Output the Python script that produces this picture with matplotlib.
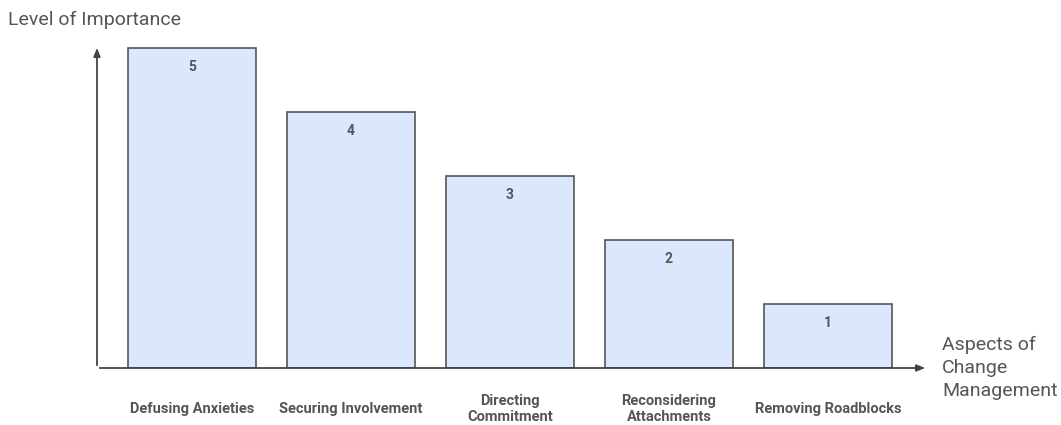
import matplotlib.pyplot as plt

plt.rcParams['font.family'] = ['Roboto', 'DejaVu Sans']

categories = ['Defusing Anxieties', 'Securing Involvement', 'Directing\nCommitment',
              'Reconsidering\nAttachments', 'Removing Roadblocks']
importance = [5, 4, 3, 2, 1]

fig = plt.figure(figsize=(10.61, 4.25), dpi=100)
ax = fig.add_axes([97 / 1061, 57 / 425, 831 / 1061, 323 / 425])

x = list(range(len(categories)))
ax.bar(x, importance, width=0.8, color='#dbe7fd', edgecolor='#555555', linewidth=1.2, zorder=2)

for xi, v in zip(x, importance):
    ax.text(xi, v - 0.3, str(v), ha='center', va='center', fontsize=10,
            fontweight='bold', color='#555555')

for xi, lab in zip(x, categories):
    ax.text(xi, -0.64, lab, ha='center', va='center', fontsize=10.5,
            fontweight='bold', color='#555555', linespacing=1.25)

ax.set_xlim(-0.597, 4.629)
ax.set_ylim(0, 5.05)
ax.axis('off')

# axis arrows
arrow = dict(arrowstyle='-|>,head_length=0.5,head_width=0.2', color='#444444', lw=1.3)
ax.annotate('', xy=(1.0, 0), xytext=(0, 0), xycoords='axes fraction', arrowprops=arrow)
ax.annotate('', xy=(0, 1.0), xytext=(0, 0), xycoords='axes fraction', arrowprops=arrow)

fig.text(8 / 1061, 1 - 20 / 425, 'Level of Importance', ha='left', va='center',
         fontsize=14, color='#555555')
fig.text(942 / 1061, 1 - 368 / 425, 'Aspects of\nChange\nManagement', ha='left', va='center',
         fontsize=14, color='#555555', linespacing=1.35)

fig.savefig('out.png', dpi=100)
